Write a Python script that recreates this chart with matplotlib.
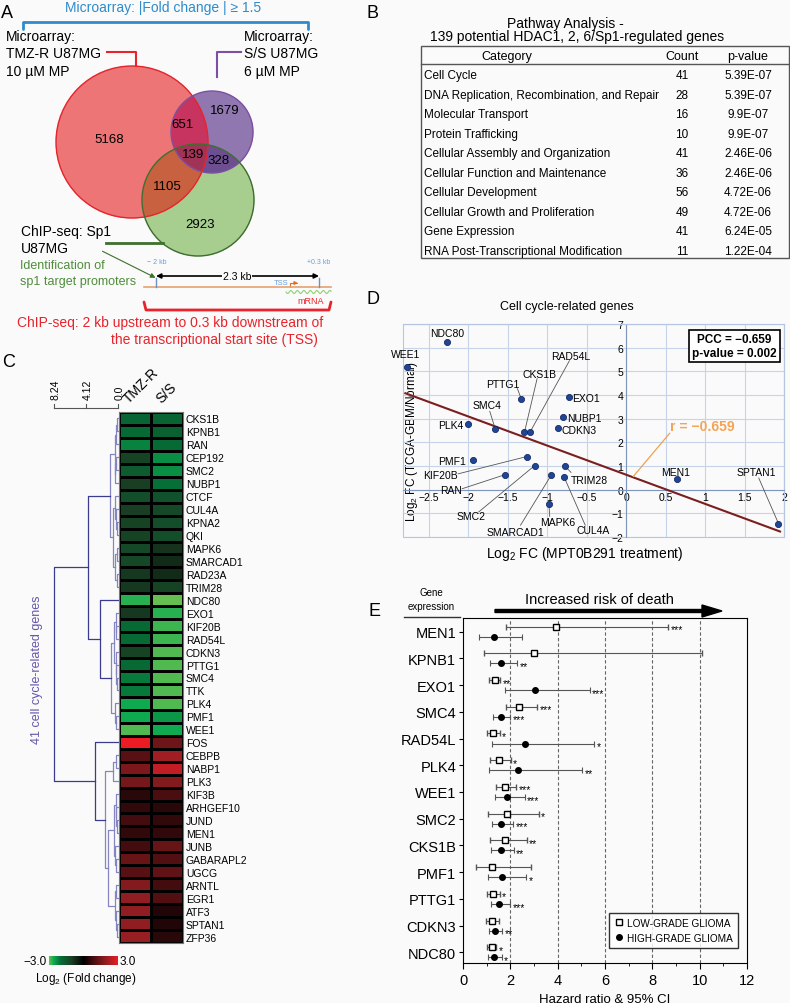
import numpy as np
import matplotlib
matplotlib.use('Agg')
import matplotlib.pyplot as plt
from matplotlib.patches import Circle, Rectangle, FancyArrow, FancyArrowPatch
from matplotlib.colors import LinearSegmentedColormap, to_rgb
from matplotlib.lines import Line2D

plt.rcParams['font.family'] = ['Liberation Sans', 'DejaVu Sans']
plt.rcParams['mathtext.fontset'] = 'custom'
plt.rcParams['mathtext.rm'] = 'Liberation Sans'

# ---------------- data ----------------
# A: venn counts (R = TMZ-R, P = S/S, G = ChIP-seq Sp1)
venn_regions = ['R', 'RP', 'P', 'RPG', 'PG', 'RG', 'G']
venn_counts = [5168, 651, 1679, 139, 328, 1105, 2923]

# B: pathway table
path_categories = ['Cell Cycle', 'DNA Replication, Recombination, and Repair',
                   'Molecular Transport', 'Protein Trafficking',
                   'Cellular Assembly and Organization', 'Cellular Function and Maintenance',
                   'Cellular Development', 'Cellular Growth and Proliferation',
                   'Gene Expression', 'RNA Post-Transcriptional Modification']
path_counts = [41, 28, 16, 10, 41, 36, 56, 49, 41, 11]
path_pvalues = ['5.39E-07', '5.39E-07', '9.9E-07', '9.9E-07', '2.46E-06',
                '2.46E-06', '4.72E-06', '4.72E-06', '6.24E-05', '1.22E-04']

# C: heatmap (log2 fold change)
heat_genes = ['CKS1B', 'KPNB1', 'RAN', 'CEP192', 'SMC2', 'NUBP1', 'CTCF', 'CUL4A',
              'KPNA2', 'QKI', 'MAPK6', 'SMARCAD1', 'RAD23A', 'TRIM28', 'NDC80', 'EXO1',
              'KIF20B', 'RAD54L', 'CDKN3', 'PTTG1', 'SMC4', 'TTK', 'PLK4', 'PMF1', 'WEE1',
              'FOS', 'CEBPB', 'NABP1', 'PLK3', 'KIF3B', 'ARHGEF10', 'JUND', 'MEN1', 'JUNB',
              'GABARAPL2', 'UGCG', 'ARNTL', 'EGR1', 'ATF3', 'SPTAN1', 'ZFP36']
heat_tmz = [-1.8, -1.9, -2.2, -1.1, -1.6, -1.0, -1.3, -1.0, -1.1, -1.1, -1.2, -1.2, -0.9, -0.9,
            -2.7, -0.9, -1.9, -1.9, -1.1, -1.9, -2.1, -2.1, -2.6, -2.6, -2.9,
            3.0, 1.1, 1.6, 1.5, 0.5, 0.6, 0.8, 0.6, 0.8, 1.3, 1.1, 1.7, 1.9, 1.9, 1.9, 2.0]
heat_ss = [-1.8, -1.7, -1.9, -2.3, -2.3, -2.0, -1.4, -1.2, -1.3, -1.3, -0.8, -0.7, -0.7, -1.1,
           -3.0, -2.7, -2.8, -2.8, -2.9, -2.9, -2.9, -2.9, -2.9, -2.4, -2.6,
           1.4, 2.1, 2.5, 1.7, 0.9, 0.5, 0.6, 0.6, 1.3, 1.0, 1.2, 0.8, 1.0, 0.4, 0.4, 0.5]
# dendrogram: (height, left, right), leaves are row indices
c1 = (1.05, (0.45, (0.2, (0.15, 0, 1), 2), (0.35, (0.2, 3, 4), 5)),
      (0.6, (0.4, 6, (0.25, 7, (0.15, 8, 9))), (0.4, (0.15, 10, 11), (0.15, 12, 13))))
c2 = (2.3, 14, (0.9, (0.5, (0.3, 15, (0.2, 16, 17)), (0.3, 18, (0.2, 19, (0.15, 20, 21)))),
                (0.4, 22, (0.2, 23, 24))))
r_sub = (1.7, (0.6, (0.3, 26, 27), 28),
         (1.3, (0.5, (0.3, 29, (0.2, 30, (0.15, 31, 32))), (0.35, 33, (0.2, 34, 35))),
          (0.45, (0.25, 36, 37), (0.2, 38, (0.15, 39, 40)))))
tree = (8.24, (3.86, c1, c2), (2.96, 25, r_sub))

# D: scatter
sc_genes = ['NDC80', 'WEE1', 'PTTG1', 'EXO1', 'NUBP1', 'CDKN3', 'PLK4', 'SMC4', 'CKS1B',
            'RAD54L', 'PMF1', 'KIF20B', 'SMC2', 'RAN', 'SMARCAD1', 'TRIM28', 'CUL4A',
            'MAPK6', 'MEN1', 'SPTAN1']
sc_x = [-2.27, -2.78, -1.33, -0.72, -0.80, -0.86, -2.01, -1.66, -1.29, -1.22, -1.94, -1.26,
        -1.16, -1.54, -0.95, -0.78, -0.79, -0.98, 0.64, 1.93]
sc_y = [6.22, 5.19, 3.83, 3.90, 3.09, 2.62, 2.77, 2.56, 2.43, 2.43, 1.26, 1.40, 1.02, 0.63,
        0.62, 1.00, 0.55, -0.62, 0.45, -1.43]
fit_slope = -1.23
fit_intercept = 0.63
pcc = -0.659
pcc_p = 0.002

# E: hazard ratios
fp_genes = ['MEN1', 'KPNB1', 'EXO1', 'SMC4', 'RAD54L', 'PLK4', 'WEE1', 'SMC2', 'CKS1B',
            'PMF1', 'PTTG1', 'CDKN3', 'NDC80']
low_hr = [3.93, 2.99, 1.34, 2.35, 1.28, 1.52, 1.79, 1.86, 1.77, 1.23, 1.28, 1.23, 1.23]
low_lo = [1.80, 0.87, 1.10, 1.80, 1.03, 1.15, 1.41, 1.06, 1.15, 0.54, 1.03, 0.99, 1.01]
low_hi = [8.66, 10.11, 1.58, 3.13, 1.55, 2.01, 2.25, 3.20, 2.70, 2.86, 1.55, 1.51, 1.41]
low_sig = ['***', '', '**', '***', '*', '*', '***', '*', '**', '', '*', '', '*']
high_hr = [1.31, 1.62, 3.03, 1.59, 2.61, 2.34, 1.87, 1.59, 1.61, 1.66, 1.52, 1.34, 1.32]
high_lo = [0.68, 1.15, 1.76, 1.27, 1.21, 1.08, 1.37, 1.23, 1.20, 1.04, 1.17, 1.08, 1.04]
high_hi = [2.48, 2.28, 5.35, 2.00, 5.54, 5.03, 2.61, 2.11, 2.15, 2.68, 2.00, 1.65, 1.63]
high_sig = ['', '**', '***', '***', '*', '**', '***', '***', '**', '*', '***', '**', '*']

W, H = 790, 1004
fig = plt.figure(figsize=(W / 100, H / 100), dpi=100, facecolor='#fafafa')
ov = fig.add_axes([0, 0, 1, 1])
ov.set_facecolor('none')
ov.axis('off')


def fax(l, t, r, b):
    return fig.add_axes([l / W, 1 - b / H, (r - l) / W, (b - t) / H])


# ---------------- A: venn ----------------
circ = {'R': (132, 143, 76), 'P': (212, 133, 41), 'G': (198, 201, 56)}
gx = np.arange(50, 262, 0.25)
gy = np.arange(60, 262, 0.25)
X, Y = np.meshgrid(gx, gy)
inside = {k: (X - c[0]) ** 2 + (Y - c[1]) ** 2 <= c[2] ** 2 for k, c in circ.items()}
code = inside['R'] * 1 + inside['P'] * 2 + inside['G'] * 4
venn_fill = {1: '#ee7575', 2: '#9178b1', 3: '#c8345f', 4: '#a7cd8f',
             5: '#c7623f', 6: '#6e4e90', 7: '#a13357'}
img = np.zeros(X.shape + (4,))
for k, c in venn_fill.items():
    img[code == k] = (*to_rgb(c), 1)
ov.imshow(img, extent=(gx[0], gx[-1], gy[-1], gy[0]), origin='upper', aspect='auto',
          interpolation='antialiased')
for k, ec in zip(['R', 'P', 'G'], ['#e8232b', '#7d4fa3', '#3e6f2e']):
    cx, cy, r = circ[k]
    ov.add_patch(Circle((cx, cy), r, fill=False, ec=ec, lw=1))

venn_pos = {'R': (109, 140), 'RP': (183, 125), 'P': (225, 111), 'RPG': (193, 155),
            'PG': (219, 161), 'RG': (167, 187), 'G': (200, 225)}
for reg, n in zip(venn_regions, venn_counts):
    ov.text(*venn_pos[reg], str(n), fontsize=9.5, ha='center', va='center')

ov.text(1, 14, 'A', fontsize=13, va='center')
blue = '#2e8bcc'
ov.text(163, 8, 'Microarray: |Fold change | \u2265 1.5', color=blue, fontsize=10,
        ha='center', va='center')
ov.plot([23, 23, 308, 308], [30, 23, 23, 30], color=blue, lw=2, solid_joinstyle='round',
        solid_capstyle='round')
for i, s in enumerate(['Microarray:', 'TMZ-R U87MG', '10 \u00b5M MP']):
    ov.text(6, 37 + 17.5 * i, s, fontsize=10, va='center')
    ov.text(244, 37 + 17.5 * i, s.replace('TMZ-R', 'S/S').replace('10 ', '6 '),
            fontsize=10, va='center')
ov.plot([107, 136, 136], [53, 53, 67], color='#e8232b', lw=1.5)
ov.plot([241, 217, 217], [53, 53, 78], color='#7d4fa3', lw=1.5)
ov.text(21, 232, 'ChIP-seq: Sp1', fontsize=10, va='center')
ov.text(21, 249, 'U87MG', fontsize=10, va='center')
ov.plot([106, 163], [244, 244], color='#3e6f2e', lw=2)
green_t = '#4f8d3b'
ov.text(20, 266, 'Identification of', fontsize=9, color=green_t, va='center')
ov.text(20, 282, 'sp1 target promoters', fontsize=9, color=green_t, va='center')
ov.add_patch(FancyArrowPatch((100, 251), (158, 280), arrowstyle='-|>', mutation_scale=7,
                             color='#3e6f2e', lw=0.8))
# promoter diagram
ov.plot([144, 331], [288, 288], color='#e8a070', lw=1.2)
ov.plot([156, 156], [279, 288], color='#6f8fc8', lw=1)
ov.plot([319, 319], [279, 288], color='#6f8fc8', lw=1)
ov.add_patch(FancyArrowPatch((156, 277), (319, 277), arrowstyle='<|-|>', mutation_scale=7,
                             color='k', lw=1.2, shrinkA=0, shrinkB=0))
ov.text(237, 277, '2.3 kb', fontsize=7.5, ha='center', va='center',
        bbox=dict(fc='#fafafa', ec='none', pad=0.5))
ov.text(157, 263, '\u2212 2 kb', fontsize=5, color='#6a9fd8', ha='center', va='center')
ov.text(319, 263, '+0.3 kb', fontsize=5, color='#6a9fd8', ha='center', va='center')
ov.text(288, 284, 'TSS', fontsize=5.5, color='#6a9fd8', ha='right', va='center')
ov.add_patch(FancyArrowPatch((290, 288), (298, 284), connectionstyle='angle,angleA=90,angleB=0,rad=0',
                             arrowstyle='-|>', mutation_scale=5, color='#d9702a', lw=0.8,
                             shrinkA=0, shrinkB=0))
wx = np.linspace(286, 331, 200)
ov.plot(wx, 293 + 1.5 * np.sin((wx - 286) * 2 * np.pi / 6.5), color='#8fd070', lw=0.8)
ov.text(311, 302, 'mRNA', fontsize=6.5, color='#e8232b', ha='center', va='center')
ov.plot([144, 146, 329, 331], [303, 311, 311, 303], color='#e8232b', lw=2,
        solid_joinstyle='round', solid_capstyle='round')
ov.text(323, 323, 'ChIP-seq: 2 kb upstream to 0.3 kb downstream of', fontsize=10,
        color='#e8232b', ha='right', va='center')
ov.text(318, 340, 'the transcriptional start site (TSS)', fontsize=10,
        color='#e8232b', ha='right', va='center')

# ---------------- B: table ----------------
ov.text(367, 13, 'B', fontsize=13, va='center')
ov.text(565, 24, 'Pathway Analysis -', fontsize=10, ha='center', va='center')
ov.text(577, 37, '139 potential HDAC1, 2, 6/Sp1-regulated genes', fontsize=10,
        ha='center', va='center')
ov.add_patch(Rectangle((421, 47), 368, 212, fill=False, ec='#555555', lw=1))
ov.plot([421, 789], [65, 65], color='#555555', lw=1)
ov.text(507, 57, 'Category', fontsize=9, ha='center', va='center')
ov.text(682, 57, 'Count', fontsize=9, ha='center', va='center')
ov.text(748, 57, 'p-value', fontsize=9, ha='center', va='center')
for i, (c, n, p) in enumerate(zip(path_categories, path_counts, path_pvalues)):
    yy = 76 + 19.55 * i
    ov.text(424, yy, c, fontsize=8.5, va='center')
    ov.text(682, yy, str(n), fontsize=8.5, ha='center', va='center')
    ov.text(748, yy, p, fontsize=8.5, ha='center', va='center')

# ---------------- C: heatmap ----------------
ov.text(2, 363, 'C', fontsize=13, va='center')
anchors = [(-3, (100, 190, 80)), (-2.6, (15, 170, 80)), (-2, (5, 110, 55)),
           (-1, (25, 62, 35)), (0, (0, 0, 0)), (1, (82, 15, 18)), (2, (150, 30, 35)),
           (3, (237, 28, 36))]
cmap = LinearSegmentedColormap.from_list('gkr', [((v + 3) / 6, np.array(c) / 255)
                                                 for v, c in anchors])
hm = fax(119, 413, 183, 944)
vals = np.column_stack([heat_tmz, heat_ss])
hm.pcolormesh(vals, cmap=cmap, vmin=-3, vmax=3, edgecolors='k', linewidth=0.8)
hm.set_ylim(len(heat_genes), 0)
hm.set_xticks([])
hm.yaxis.tick_right()
hm.set_yticks(np.arange(len(heat_genes)) + 0.5)
hm.set_yticklabels(heat_genes, fontsize=7.5)
hm.tick_params(axis='y', length=0, pad=2)
for s in hm.spines.values():
    s.set_color('#777777')
ov.text(131, 406, 'TMZ-R', fontsize=10, rotation=45, rotation_mode='anchor',
        ha='left', va='bottom')
ov.text(163, 406, 'S/S', fontsize=10, rotation=45, rotation_mode='anchor',
        ha='left', va='bottom')

row_h = (944 - 413) / len(heat_genes)


def dx(h):
    return 118 - h * 7.77


def draw_tree(node):
    if isinstance(node, int):
        return 413 + row_h * (node + 0.5), 0.0
    h, a, b = node
    ya, ha_ = draw_tree(a)
    yb, hb = draw_tree(b)
    col = '#3b3b8f' if h >= 2.2 else '#8585c2'
    ov.plot([dx(ha_), dx(h), dx(h), dx(hb)], [ya, ya, yb, yb], color=col, lw=0.9)
    return (ya + yb) / 2, h


draw_tree(tree)
ov.plot([54, 118], [409, 409], color='#555555', lw=0.8)
for hv, lab in zip([8.24, 4.12, 0.0], ['8.24', '4.12', '0.0']):
    ov.plot([dx(hv)] * 2, [405, 409], color='#555555', lw=0.8)
    ov.text(dx(hv) + 1.5, 400, lab, fontsize=7.5, rotation=90, ha='center', va='bottom')
ov.text(37, 670, '41 cell cycle-related genes', fontsize=9, rotation=90, color='#6655aa',
        ha='center', va='center')
cb = fax(49, 957, 118, 966)
cb.imshow(np.linspace(-3, 3, 256)[None, :], cmap=cmap, aspect='auto')
cb.axis('off')
ov.text(47, 962, '\u22123.0', fontsize=8.5, ha='right', va='center')
ov.text(120, 962, '3.0', fontsize=8.5, ha='left', va='center')
ov.text(35, 979, 'Log$_2$ (Fold change)', fontsize=8.5, ha='left', va='center')

# ---------------- D: scatter ----------------
ov.text(366, 300, 'D', fontsize=13, va='center')
ax = fax(403, 325, 784, 538)
ax.set_facecolor('none')
ax.set_xlim(-2.83, 2.0)
ax.set_ylim(-2, 7)
xt = np.arange(-2.5, 2.01, 0.5)
ax.set_xticks(xt)
ax.set_xticklabels([('%g' % v).replace('-', '\u2212') for v in xt])
ax.set_yticks(range(-2, 8))
ax.set_yticklabels([str(v).replace('-', '\u2212') for v in range(-2, 8)])
ax.grid(color='#c6d4ea', lw=0.8)
ax.set_axisbelow(True)
for s in ['top', 'right']:
    ax.spines[s].set_color('#b5c6e0')
ax.spines['left'].set_position(('data', 0))
ax.spines['bottom'].set_position(('data', 0))
ax.spines['left'].set_color('#7f97bd')
ax.spines['bottom'].set_color('#7f97bd')
ax.add_patch(Rectangle((0, 0), 1, 1, transform=ax.transAxes, fill=False, ec='#b5c6e0',
                       lw=0.8, clip_on=False))
ax.tick_params(length=0, labelsize=7.5, pad=2)
fx = np.array([-2.8, 1.95])
ax.plot(fx, fit_intercept + fit_slope * fx, color='#7a1e1e', lw=1.5, zorder=3)
ax.scatter(sc_x, sc_y, s=20, color='#1f4597', edgecolors='#0a1e55', linewidths=0.5, zorder=4)

# label placement: text pos, alignment, leader start (None = no leader)
lab_pos = {
    'NDC80': (-2.27, 6.62, 'center', None), 'WEE1': (-2.8, 5.72, 'center', None),
    'PTTG1': (-1.57, 4.46, 'center', (-1.38, 4.27)),
    'CKS1B': (-1.105, 4.90, 'center', (-1.13, 4.69)),
    'RAD54L': (-0.71, 5.66, 'center', (-0.72, 5.45)),
    'SMC4': (-1.76, 3.59, 'center', (-1.73, 3.31)),
    'PLK4': (-2.07, 2.73, 'right', None), 'EXO1': (-0.685, 3.87, 'left', None),
    'NUBP1': (-0.75, 3.03, 'left', None), 'CDKN3': (-0.815, 2.53, 'left', None),
    'PMF1': (-2.03, 1.22, 'right', None),
    'KIF20B': (-2.13, 0.63, 'right', (-2.13, 0.67)),
    'RAN': (-2.08, 0.0, 'right', (-2.08, 0.04)),
    'SMC2': (-1.97, -1.12, 'center', (-1.87, -0.94)),
    'SMARCAD1': (-1.40, -1.78, 'center', (-1.34, -1.50)),
    'MAPK6': (-0.865, -1.36, 'center', (-0.97, -1.13)),
    'CUL4A': (-0.42, -1.72, 'center', (-0.52, -1.50)),
    'TRIM28': (-0.705, 0.42, 'left', (-0.70, 0.73)),
    'MEN1': (0.63, 0.74, 'center', None),
    'SPTAN1': (1.65, 0.74, 'center', (1.68, 0.49)),
}
for g, x0, y0 in zip(sc_genes, sc_x, sc_y):
    tx, ty, ha, lead = lab_pos[g]
    ax.text(tx, ty, g, fontsize=7.5, ha=ha, va='center', zorder=5, clip_on=False)
    if lead is not None:
        ax.plot([lead[0], x0], [lead[1], y0], color='#555555', lw=0.6, zorder=3)
ax.plot([0.09, 0.55], [0.56, 2.38], color='#f0a050', lw=0.9, zorder=3)
ax.text(0.555, 2.70, 'r = %s' % ('%.3f' % pcc).replace('-', '\u2212'), color='#f4a455',
        fontsize=10, fontweight='bold', va='center', ha='left')
ax.text(1.37, 6.07, 'PCC = %s\np-value = %.3f' % (('%.3f' % pcc).replace('-', '\u2212'), pcc_p),
        fontsize=8.5, fontweight='bold', ha='center', va='center', zorder=6,
        bbox=dict(boxstyle='square,pad=0.25', fc='white', ec='k', lw=1.2))
ov.text(567, 307, 'Cell cycle-related genes', fontsize=9, ha='center', va='center')
ov.text(412, 442, 'Log$_2$ FC (TCGA-GBM/Normal)', fontsize=8.5, rotation=90,
        ha='center', va='center')
ov.text(585, 554, 'Log$_2$ FC (MPT0B291 treatment)', fontsize=10, ha='center', va='center')

# ---------------- E: forest plot ----------------
ov.text(368, 612, 'E', fontsize=13, va='center')
ov.text(431, 593, 'Gene', fontsize=7, ha='center', va='center')
ov.text(431, 607, 'expression', fontsize=7, ha='center', va='center')
ov.plot([404, 460], [618, 618], color='#333333', lw=1)
ov.text(599, 600, 'Increased risk of death', fontsize=10.5, ha='center', va='center')
ov.add_patch(FancyArrow(495, 612, 227, 0, width=3, head_width=12, head_length=20,
                        length_includes_head=True, color='k'))
ex = fax(463, 619, 747, 964)
ex.set_facecolor('none')
ypos = np.arange(len(fp_genes))
off = 0.19
lh, ll, lu = map(np.array, (low_hr, low_lo, low_hi))
hh, hl, hu = map(np.array, (high_hr, high_lo, high_hi))
ex.errorbar(lh, ypos - off, xerr=[lh - ll, lu - lh], fmt='s', mfc='white', mec='k', mew=1,
            ms=4.5, ecolor='#555555', elinewidth=0.8, capsize=2, capthick=0.8, zorder=3)
ex.errorbar(hh, ypos + off, xerr=[hh - hl, hu - hh], fmt='o', color='k', ms=4,
            ecolor='#555555', elinewidth=0.8, capsize=2, capthick=0.8, zorder=3)
for i in range(len(fp_genes)):
    if low_sig[i]:
        ex.text(lu[i] + 0.1, i - off + 0.1, low_sig[i], fontsize=7.5, va='center')
    if high_sig[i]:
        ex.text(hu[i] + 0.1, i + off + 0.1, high_sig[i], fontsize=7.5, va='center')
for v in [2, 4, 6, 8, 10]:
    ex.axvline(v, color='#666666', lw=0.8, ls=(0, (3, 2)), zorder=1)
ex.set_xlim(0, 12)
ex.set_ylim(len(fp_genes) - 0.6, -0.51)
ex.set_xticks(range(0, 13, 2))
ex.set_xticks(range(1, 12, 2), minor=True)
ex.set_yticks(ypos)
ex.set_yticklabels(fp_genes, fontsize=10.5)
ex.tick_params(axis='x', labelsize=10.5, length=4)
ex.tick_params(axis='x', which='minor', length=2.5)
ex.tick_params(axis='y', length=3, pad=2)
ex.set_xlabel('Hazard ratio & 95% CI', fontsize=9.5, labelpad=4)
handles = [Line2D([], [], marker='s', ls='none', mfc='white', mec='k', ms=4.5),
           Line2D([], [], marker='o', ls='none', color='k', ms=4)]
leg = ex.legend(handles, ['LOW-GRADE GLIOMA', 'HIGH-GRADE GLIOMA'], loc='lower right',
                bbox_to_anchor=(0.985, 0.03), fontsize=7.2, frameon=True, fancybox=False,
                edgecolor='k', handletextpad=0.3, handlelength=1.0, borderpad=0.5)
leg.get_frame().set_linewidth(1)

ov.set_xlim(0, W)
ov.set_ylim(H, 0)
fig.savefig('out.png', dpi=100, facecolor=fig.get_facecolor())
